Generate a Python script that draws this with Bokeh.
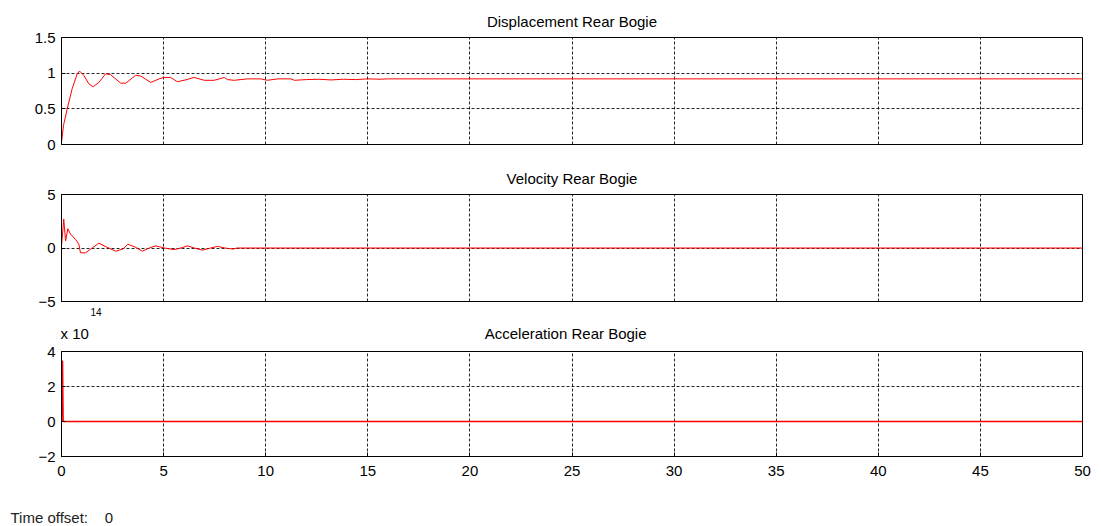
from bokeh.plotting import figure
from bokeh.layouts import column
from bokeh.models import Range1d, FixedTicker, Title
from bokeh.embed import file_html
from bokeh.resources import INLINE

# ---- data ----
x_ticks = [0, 5, 10, 15, 20, 25, 30, 35, 40, 45, 50]

disp_t = [0, 0.1, 0.28, 0.52, 0.77, 0.88, 1.09, 1.34, 1.55, 1.83, 2.16, 2.4, 2.9, 3.15, 3.63, 3.88,
          4.37, 4.78, 5.0, 5.35, 5.67, 6.0, 6.5, 6.99, 7.48, 7.97, 8.13, 8.45, 9.1, 9.76, 10.08,
          10.6, 11.24, 11.4, 12.0, 12.6, 13.2, 13.8, 14.4, 15.0, 15.6, 16.0, 50]
disp_y = [0.03, 0.27, 0.5, 0.78, 0.99, 1.03, 0.97, 0.85, 0.81, 0.87, 0.99, 0.98, 0.86, 0.86, 0.97, 0.96,
          0.87, 0.92, 0.94, 0.94, 0.88, 0.9, 0.94, 0.9, 0.9, 0.94, 0.91, 0.9, 0.92, 0.92, 0.9,
          0.92, 0.92, 0.9, 0.91, 0.915, 0.905, 0.915, 0.91, 0.92, 0.915, 0.92, 0.92]
disp_ticks = [0, 0.5, 1, 1.5]

vel_t = [0, 0.06, 0.11, 0.2, 0.31, 0.44, 0.69, 0.85, 0.93, 1.18, 1.5, 1.83, 2.2, 2.65, 3.0, 3.25,
         3.6, 3.96, 4.3, 4.6, 5.05, 5.5, 5.85, 6.17, 6.5, 6.9, 7.3, 7.64, 8.0, 8.4, 8.6, 50]
vel_y = [0.2, 1.5, 2.7, 0.66, 1.8, 1.3, 0.8, 0.35, -0.45, -0.45, 0.0, 0.45, 0.1, -0.3, -0.1, 0.35,
         0.1, -0.3, 0.0, 0.2, 0.0, -0.15, 0.0, 0.2, 0.0, -0.2, 0.0, 0.15, 0.0, -0.1, 0.0, 0.0]
vel_ticks = [-5, 0, 5]

acc_t = [0, 0.02, 0.05, 0.08, 0.1, 50]
acc_y = [0, 3.45, 3.45, 0, 0, 0]
acc_ticks = [-2, 0, 2, 4]

titles = ["Displacement Rear Bogie", "Velocity Rear Bogie", "Acceleration Rear Bogie"]
exp_base = "x 10"
exp_power = "14"
time_offset = "Time offset:"
time_offset_value = "0"

FONT = "Liberation Sans"
NBSP = "\u00a0"


def make_fig(height, top, bottom, yr, yticks, show_x):
    p = figure(width=1101, height=height, x_range=Range1d(0, 50), y_range=Range1d(*yr),
               output_backend="svg", toolbar_location=None, title=None,
               min_border_left=61, min_border_right=19, min_border_top=top, min_border_bottom=bottom)
    p.background_fill_color = "white"
    p.border_fill_color = "white"
    p.outline_line_color = "black"
    p.outline_line_width = 1
    p.outline_line_alpha = 1

    p.xaxis.ticker = FixedTicker(ticks=x_ticks)
    p.yaxis.ticker = FixedTicker(ticks=yticks)
    for ax in list(p.xaxis) + list(p.yaxis):
        ax.axis_line_color = "black"
        ax.major_tick_in = 4
        ax.major_tick_out = 0
        ax.minor_tick_line_color = None
        ax.major_tick_line_color = "black"
        ax.major_label_text_font = FONT
        ax.major_label_text_font_size = "15px"
        ax.major_label_text_color = "black"
    p.yaxis.major_label_standoff = 6
    p.xaxis.major_label_standoff = 9
    if not show_x:
        p.xaxis.visible = False

    p.xgrid.ticker = FixedTicker(ticks=x_ticks)
    p.ygrid.ticker = FixedTicker(ticks=yticks)
    for g in [p.xgrid, p.ygrid]:
        g.grid_line_color = "black"
        g.grid_line_dash = "3 2"
        g.grid_line_alpha = 0.85
        g.grid_line_width = 1
    return p


def add_title(p, text, where, align, standoff, offset=0, size="15px", color="black"):
    t = Title(text=text, align=align, text_font=FONT, text_font_size=size,
              text_font_style="normal", text_color=color, standoff=standoff, offset=offset)
    p.add_layout(t, where)


# page rows: p1 0..159, p2 159..312, p3 301..501 (overlaps p2's bottom, transparent border),
# p4 506..526 (caption line)
p1 = make_fig(159, 37, 15, (0, 1.5), disp_ticks, False)
p1.line(disp_t, disp_y, line_color="#ff0000", line_width=1)
add_title(p1, titles[0], "above", "center", 14.5, offset=-7)

p2 = make_fig(153, 35, 11, (-5, 5), vel_ticks, False)
p2.line(vel_t, vel_y, line_color="#ff0000", line_width=1)
add_title(p2, titles[1], "above", "center", 15, offset=-6)

p3 = make_fig(200, 50, 45, (-2, 4), acc_ticks, True)
p3.border_fill_color = None
p3.margin = (-11, 0, 0, 0)
p3.line(acc_t, acc_y, line_color="#ff0000", line_width=1.5)
# "x 10" sits on the same line as the panel title; the exponent sits one row above it
add_title(p3, exp_base + NBSP * 95 + titles[2], "above", "left", 18.5, offset=-1)
add_title(p3, exp_power, "above", "left", -5, offset=29, size="10px")

# caption line "Time offset: 0"
p4 = figure(width=1101, height=20, output_backend="svg", toolbar_location=None,
            min_border_left=0, min_border_right=0, min_border_top=0, min_border_bottom=0)
p4.margin = (5, 0, 0, 0)
p4.xaxis.visible = False
p4.yaxis.visible = False
p4.xgrid.visible = False
p4.ygrid.visible = False
p4.outline_line_color = None
p4.background_fill_color = None
p4.border_fill_color = None
add_title(p4, time_offset + NBSP * 4 + time_offset_value, "above", "left", 0, offset=-51,
          color="#222222")

layout = column(p1, p2, p3, p4, spacing=0)
open("out.html", "w").write(file_html(layout, INLINE))
